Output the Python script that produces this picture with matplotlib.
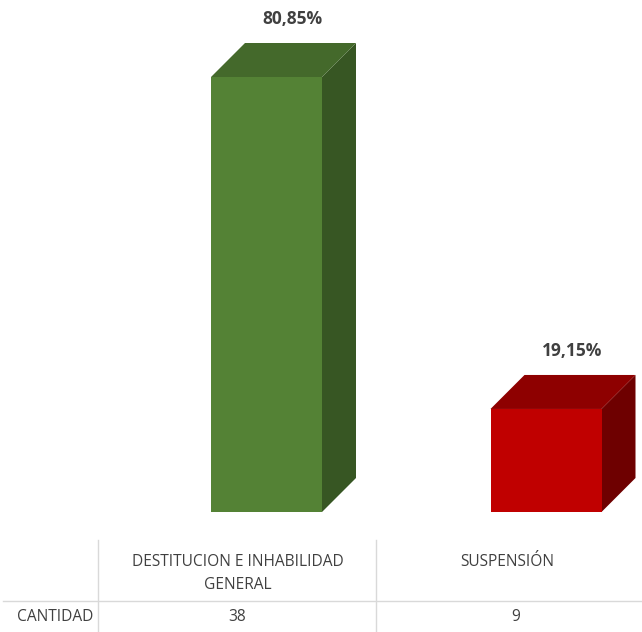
import matplotlib
matplotlib.use("Agg")
import matplotlib.pyplot as plt
from matplotlib.patches import Polygon, Rectangle
from matplotlib.lines import Line2D

categories = ["DESTITUCION E INHABILIDAD\nGENERAL", "SUSPENSIÓN"]
percentages = [80.85, 19.15]
counts = [38, 9]
pct_labels = ["80,85%", "19,15%"]
row_label = "CANTIDAD"

front_colors = ["#548235", "#C00000"]
top_colors = ["#44692B", "#8E0000"]
side_colors = ["#375623", "#6E0000"]

FONT = ["Open Sans", "DejaVu Sans"]
W, H = 642, 632
fig = plt.figure(figsize=(W / 100, H / 100), dpi=100)
fig.patch.set_facecolor("white")

# axes: y=0 at pixel 512 from top
ax = fig.add_axes([0, 120 / H, 1, 512 / H])
px_per_cat = 279.5
x0_px = 266.5
ax.set_xlim(-x0_px / px_per_cat, (W - x0_px) / px_per_cat)
px_per_unit = 435 / 80.85
ax.set_ylim(0, 512 / px_per_unit)
ax.axis("off")

bar_w = 111 / px_per_cat
dx = 34 / px_per_cat
dy = 34 / px_per_unit

for i, v in enumerate(percentages):
    l, r = i - bar_w / 2, i + bar_w / 2
    # side face
    ax.add_patch(Polygon([(r, 0), (r + dx, dy), (r + dx, v + dy), (r, v)],
                         closed=True, facecolor=side_colors[i], edgecolor="none"))
    # top face
    ax.add_patch(Polygon([(l, v), (r, v), (r + dx, v + dy), (l + dx, v + dy)],
                         closed=True, facecolor=top_colors[i], edgecolor="none"))
    # front face
    ax.add_patch(Rectangle((l, 0), bar_w, v, facecolor=front_colors[i],
                           edgecolor="none"))
    ax.annotate(pct_labels[i], (i, v), xytext=(19, 42), textcoords="offset points",
                ha="center", va="center", fontsize=12.5, fontweight="bold",
                color="#404040", family=FONT)

# table
def fx(px):
    return px / W

def fy(py):
    return 1 - py / H

line_col = "#D9D9D9"
fig.add_artist(Line2D([fx(98), fx(98)], [fy(540), fy(632)], color=line_col, lw=1))
fig.add_artist(Line2D([fx(376), fx(376)], [fy(540), fy(632)], color=line_col, lw=1))
fig.add_artist(Line2D([fx(3), fx(642)], [fy(601), fy(601)], color=line_col, lw=1))

col_centers = []
for i in range(len(categories)):
    xc, _ = fig.transFigure.inverted().transform(ax.transData.transform((i, 0)))
    col_centers.append(xc)

for i, cat in enumerate(categories):
    lines = cat.split("\n")
    for k, t in enumerate(lines):
        fig.text(col_centers[i] - fx(29) if i == 0 else col_centers[i] - fx(39),
                 fy(562 + 23 * k), t, ha="center", va="center",
                 fontsize=11.2, color="#404040", family=FONT)
    fig.text(col_centers[i] - fx(29) if i == 0 else col_centers[i] - fx(30),
             fy(617), str(counts[i]), ha="center", va="center",
             fontsize=11.2, color="#404040", family=FONT)

fig.text(fx(55), fy(617), row_label, ha="center", va="center",
         fontsize=11.2, color="#404040", family=FONT)

fig.savefig("out.png", dpi=100, facecolor="white")
